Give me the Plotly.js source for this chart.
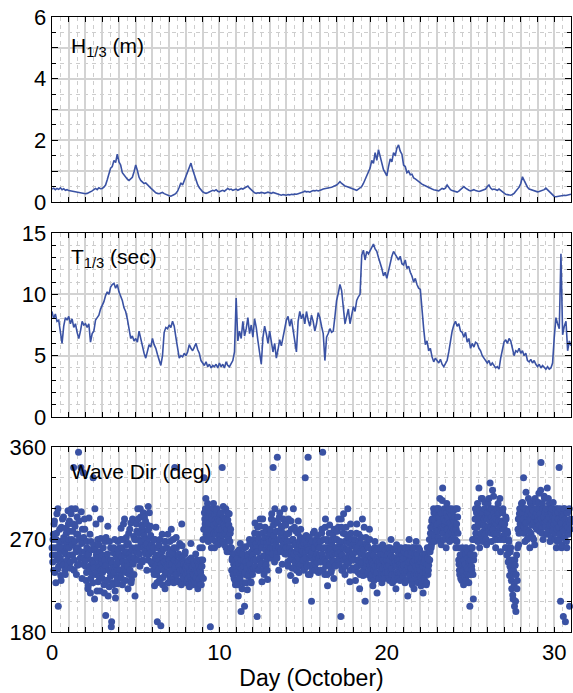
<!DOCTYPE html>
<html><head><meta charset="utf-8">
<script src="https://cdn.plot.ly/plotly-3.0.1.min.js"></script>
<style>html,body{margin:0;padding:0;background:#fff}#chart{width:573px;height:693px}</style>
</head><body><div id="chart"></div>
<script>
// Sampling interval (days) of the line series
const lineStepDays = 0.1;
// Significant wave height H1/3 (m), every 0.1 day from day 0 to 31
const waveHeight = [
0.42,0.45,0.40,0.44,0.41,0.46,0.40,0.43,0.38,0.40,
0.37,0.36,0.34,0.33,0.31,0.30,0.29,0.28,0.28,0.27,
0.27,0.28,0.30,0.33,0.36,0.40,0.44,0.40,0.46,0.43,
0.44,0.48,0.55,0.72,0.88,1.10,1.15,1.35,1.28,1.55,
1.30,1.20,0.95,0.88,0.78,0.74,0.70,0.76,0.80,0.98,
1.20,1.02,0.80,0.70,0.65,0.60,0.62,0.55,0.50,0.45,
0.40,0.34,0.30,0.28,0.27,0.29,0.31,0.27,0.24,0.22,
0.20,0.19,0.21,0.24,0.28,0.35,0.48,0.62,0.55,0.70,
0.82,0.95,1.12,1.26,1.05,0.86,0.70,0.56,0.46,0.38,
0.33,0.30,0.28,0.30,0.32,0.35,0.38,0.36,0.40,0.35,
0.33,0.36,0.38,0.35,0.40,0.44,0.40,0.42,0.38,0.40,
0.42,0.38,0.40,0.44,0.42,0.46,0.48,0.52,0.45,0.40,
0.34,0.30,0.28,0.30,0.29,0.31,0.30,0.28,0.30,0.32,
0.30,0.28,0.31,0.29,0.27,0.25,0.23,0.22,0.24,0.23,
0.22,0.24,0.23,0.25,0.24,0.26,0.25,0.27,0.28,0.30,
0.32,0.35,0.33,0.34,0.32,0.35,0.37,0.36,0.38,0.36,
0.39,0.40,0.42,0.43,0.45,0.44,0.47,0.48,0.50,0.52,
0.55,0.60,0.66,0.60,0.55,0.52,0.50,0.48,0.45,0.42,
0.40,0.39,0.38,0.42,0.45,0.50,0.60,0.72,0.85,1.00,
1.10,1.35,1.25,1.60,1.35,1.70,1.45,1.20,1.05,0.95,
0.85,1.15,1.40,1.30,1.60,1.50,1.75,1.85,1.65,1.55,
1.20,1.15,0.95,1.00,0.88,0.90,0.78,0.75,0.70,0.66,
0.62,0.58,0.55,0.52,0.50,0.47,0.44,0.42,0.40,0.38,
0.37,0.36,0.40,0.44,0.42,0.45,0.55,0.48,0.40,0.37,
0.35,0.33,0.32,0.35,0.40,0.45,0.50,0.45,0.40,0.38,
0.36,0.38,0.40,0.37,0.35,0.34,0.36,0.38,0.40,0.42,
0.50,0.55,0.45,0.40,0.42,0.40,0.38,0.42,0.38,0.32,
0.27,0.25,0.24,0.23,0.22,0.24,0.28,0.35,0.40,0.48,
0.60,0.82,0.70,0.58,0.48,0.42,0.40,0.38,0.36,0.35,
0.33,0.34,0.36,0.38,0.40,0.45,0.40,0.32,0.28,0.22,
0.18,0.17,0.18,0.20,0.19,0.21,0.22,0.21,0.22,0.24,
0.25];
// Significant wave period T1/3 (sec), every 0.1 day
const wavePeriod = [
8.6,8.0,8.4,7.8,7.9,7.0,6.0,7.4,8.1,7.9,
8.2,7.6,8.0,7.3,7.6,6.9,6.4,7.0,7.8,7.5,
7.6,7.3,7.6,6.1,6.8,7.0,7.9,8.1,8.3,8.8,
9.1,9.4,9.9,10.2,10.0,10.6,10.8,10.9,10.5,10.8,
10.2,9.8,9.5,8.9,8.6,8.0,7.2,6.4,6.6,6.2,
6.4,6.1,7.0,6.3,5.6,5.2,4.8,5.5,5.9,5.7,
6.4,5.9,5.6,5.1,4.6,4.2,5.0,6.9,7.3,7.2,
7.5,7.3,7.8,7.4,6.5,5.6,4.8,5.0,4.9,5.2,
5.0,5.3,5.9,5.6,5.4,5.7,6.0,5.5,5.2,4.6,
4.4,4.2,4.5,4.1,4.3,4.0,4.2,4.1,4.3,4.0,
4.4,4.1,4.3,4.0,4.5,4.2,4.1,4.3,4.6,5.3,
9.7,6.2,7.0,6.4,7.8,6.6,7.2,8.1,6.8,7.5,
6.5,8.0,7.3,6.2,5.0,4.3,6.5,7.4,6.8,6.0,
7.0,6.2,5.3,6.0,4.8,5.5,6.3,5.8,6.6,7.2,
7.9,8.2,7.4,8.0,7.1,6.3,5.3,7.8,8.6,8.0,
8.4,7.6,8.6,7.9,7.4,8.3,7.8,7.0,7.6,8.5,
8.1,7.4,6.8,4.6,6.5,6.8,7.2,6.9,7.0,8.2,
9.5,10.1,10.8,10.3,9.0,7.6,8.2,8.8,7.6,8.4,
9.0,8.6,9.5,9.8,10.0,13.2,13.6,12.8,13.5,13.3,
13.6,13.8,14.1,13.7,13.5,13.0,12.6,12.1,11.5,11.8,
11.3,12.0,12.6,13.1,13.5,13.3,13.0,12.8,13.1,12.5,
12.4,12.8,12.1,12.3,11.8,11.5,11.0,11.3,10.8,10.5,
10.4,8.6,7.2,5.9,6.2,5.4,5.6,4.9,4.5,4.8,
4.6,4.4,4.7,4.3,4.1,4.3,4.6,5.3,6.2,7.0,
7.5,7.8,7.4,7.6,7.0,6.9,6.5,6.9,6.1,6.4,
5.6,6.0,5.7,6.1,6.0,5.6,5.4,5.0,4.8,4.6,
4.4,4.6,4.2,4.4,4.2,4.0,4.1,3.9,4.8,5.4,
6.1,6.3,6.0,6.4,6.2,5.6,5.0,5.4,5.3,5.6,
5.2,5.4,5.0,5.2,4.6,4.5,4.7,4.4,4.6,4.3,
4.1,4.3,4.0,4.2,4.0,3.9,4.1,3.9,4.0,4.4,
6.5,8.1,7.6,7.2,13.3,6.7,7.4,7.8,5.4,6.2,
5.8];
// Wave direction (deg): half-hourly samples, given as the on-the-hour list and the half-past list
const dirStepDays = 1 / 24;
const waveDirOnHour = [
262,248,275,285,238,255,270,295,241,205,263,280,252,230,268,290,245,272,258,236,281,266,250,298,
270,288,255,242,300,265,278,340,250,283,262,236,292,275,355,246,271,258,297,232,268,335,252,280,
244,230,262,255,225,291,240,218,268,250,236,330,247,212,260,285,238,252,229,265,243,220,271,248,
232,255,241,218,268,196,245,230,283,250,224,239,262,185,247,228,257,236,270,213,244,252,227,260,
248,262,235,281,253,226,270,244,290,258,238,265,249,222,276,256,240,286,231,260,246,273,252,215,
270,285,258,300,262,276,244,292,268,281,250,296,274,259,288,265,240,279,302,256,271,283,248,265,
258,240,270,225,252,282,236,190,248,265,230,256,186,242,275,233,261,248,222,268,245,238,275,252,
250,268,238,280,246,258,232,262,340,244,272,236,255,229,248,266,240,228,285,252,234,246,239,258,
236,228,245,232,250,224,238,266,230,242,226,248,235,229,256,233,240,222,247,231,262,238,226,244,
250,232,330,290,300,275,288,305,268,282,296,185,279,292,270,301,284,262,289,275,298,280,265,287,
280,295,270,286,340,274,291,265,282,300,276,258,289,272,295,268,280,262,250,240,256,232,248,226,
245,230,258,215,247,236,266,200,242,255,228,250,205,238,263,244,221,253,236,270,246,229,258,240,
255,270,242,286,250,262,195,258,275,240,283,248,266,229,290,254,236,272,260,245,278,231,264,252,
268,280,252,295,262,340,274,248,288,265,256,350,278,240,292,270,258,283,246,276,265,300,256,284,
262,275,248,290,256,268,235,280,252,270,300,243,265,230,278,258,250,288,238,265,272,246,260,255,
258,240,270,330,252,266,244,350,260,272,236,255,210,268,246,262,278,240,253,267,248,274,238,262,
255,268,240,280,355,252,262,236,290,248,270,225,258,245,284,260,238,266,250,275,232,258,270,245,
262,278,250,290,245,268,195,282,255,240,295,262,236,275,252,268,300,247,260,229,285,256,270,242,
256,242,270,230,262,285,250,238,275,222,258,266,245,290,235,260,252,210,272,247,264,238,255,280,
245,232,260,248,225,255,240,268,236,250,218,245,262,232,248,256,240,228,265,250,236,245,260,238,
250,238,262,245,230,256,270,242,228,252,260,236,248,222,265,244,258,238,250,230,262,246,255,240,
245,258,228,262,240,252,215,248,270,235,255,242,230,262,248,222,256,240,268,236,250,228,245,260,
240,225,252,235,218,248,230,256,242,228,262,236,245,270,258,282,265,290,275,300,268,285,295,278,
285,300,272,292,310,278,265,295,320,282,270,298,288,262,305,280,292,275,268,296,284,300,276,290,
280,292,270,262,285,300,276,250,240,255,232,248,262,238,226,250,244,256,230,242,258,236,248,205,
250,262,240,270,212,255,282,300,290,270,305,285,320,262,298,276,290,310,268,284,300,275,292,265,
290,305,278,296,325,282,268,300,288,312,275,292,262,285,300,270,295,280,310,258,288,272,296,280,
270,285,262,290,255,276,248,268,235,258,240,222,250,212,236,205,245,200,255,230,280,265,295,285,
290,305,278,296,330,282,268,300,286,270,295,310,278,262,290,302,284,272,298,288,265,292,306,280,
300,288,315,278,295,345,282,305,270,292,310,286,298,275,320,290,280,305,268,295,285,300,278,292,
285,270,296,262,280,300,290,340,275,210,286,265,292,195,278,300,190,284,262,296,275,288,205,280];
const waveDirHalfHour = [
255,270,240,288,262,228,276,250,300,244,268,258,235,282,262,248,292,270,240,256,276,262,245,285,
262,278,248,295,270,255,285,240,268,300,258,275,245,262,288,270,252,340,266,280,246,272,290,258,
250,238,268,222,256,244,275,232,260,248,228,265,242,300,236,255,220,270,246,234,258,290,240,252,
238,262,226,250,244,272,230,256,215,240,268,234,250,190,242,226,262,238,220,255,246,232,268,240,
256,240,270,232,262,248,285,240,255,230,272,258,244,266,236,280,252,228,262,290,248,236,270,258,
262,278,250,290,270,256,300,266,284,248,276,262,292,270,256,285,266,250,280,296,262,274,258,246,
248,262,236,270,244,255,228,262,240,250,270,232,246,258,226,252,240,268,236,250,262,244,228,256,
246,232,260,240,255,270,228,250,242,236,262,248,230,256,244,238,252,226,264,240,248,232,256,244,
242,230,238,248,226,240,234,252,228,244,236,230,246,240,232,250,228,238,244,226,240,250,234,262,
270,280,296,285,310,278,292,270,300,286,275,298,262,290,280,305,276,294,268,286,300,278,290,272,
288,274,296,280,268,302,284,276,290,262,280,296,270,284,258,276,262,240,252,236,246,256,230,240,
238,252,226,246,260,232,250,240,222,256,244,262,236,248,228,242,256,234,250,266,240,228,252,236,
262,250,276,244,266,258,282,240,270,252,290,246,262,276,240,268,254,282,248,266,240,272,258,270,
276,262,290,270,256,284,268,300,262,278,252,286,270,262,296,276,260,282,268,290,258,272,286,262,
256,268,244,276,262,250,288,258,242,270,256,282,248,266,240,262,276,252,268,244,280,256,264,250,
250,266,242,258,274,246,262,236,270,252,244,266,258,240,276,250,262,246,270,256,240,264,252,268,
262,248,276,256,240,270,250,282,244,262,236,268,254,276,246,262,240,270,256,248,280,244,262,256,
270,256,282,248,266,258,290,240,262,276,250,268,244,282,260,248,272,256,266,240,276,252,264,250,
250,266,240,258,276,244,262,250,268,236,256,272,248,262,240,282,254,244,266,250,236,262,248,270,
240,252,236,256,246,230,262,244,252,238,260,248,232,254,244,262,236,250,242,256,232,248,240,254,
244,256,232,250,262,240,254,236,248,260,230,252,244,262,238,250,232,256,246,238,260,242,250,234,
252,238,262,246,230,256,244,262,236,250,240,258,226,248,262,236,250,244,232,256,240,262,236,248,
234,248,228,244,256,232,250,238,226,246,252,240,262,250,276,262,288,270,282,296,274,288,280,300,
292,278,300,286,268,296,282,308,276,290,300,284,272,296,280,290,270,300,286,278,294,282,270,298,
288,276,300,280,268,292,262,246,236,250,242,230,256,240,250,234,246,262,238,252,240,228,250,236,
256,244,262,236,250,270,290,276,296,282,268,300,284,292,272,310,286,296,278,290,306,282,270,296,
296,282,310,288,300,276,292,318,280,296,286,270,300,290,276,305,288,296,282,270,298,286,300,274,
280,270,292,262,278,256,270,250,244,262,230,246,216,240,226,250,210,236,222,262,290,276,300,290,
296,282,306,290,276,300,286,316,280,292,272,298,288,306,276,294,284,300,270,292,310,282,296,288,
292,306,284,300,318,290,276,300,286,312,296,282,300,288,276,310,292,284,300,272,296,288,306,282,
290,276,300,286,268,296,282,270,300,288,262,294,280,300,272,290,286,268,296,282,276,300,286,290];

const panelLabels = ['H<sub>1/3</sub> (m)', 'T<sub>1/3</sub> (sec)', 'Wave Dir (deg)'];
const xTitle = 'Day (October)';

const lineX = waveHeight.map((_, i) => i * lineStepDays);
const dirX = [], dirY = [];
waveDirOnHour.forEach((v, i) => {
  dirX.push(i * dirStepDays); dirY.push(v);
  dirX.push((i + 0.5) * dirStepDays); dirY.push(waveDirHalfHour[i]);
});

const BLUE = '#3a52a4';
const FONT = '"Liberation Sans", Arial, Helvetica, sans-serif';
const GRID = '#d3d3d3';
const GRID_DASH = '#cdcdcd';
const DASH = '4px,4px';

function xAxis(anchor, showLabels) {
  return {
    anchor: anchor, domain: [0, 1], range: [0, 31],
    tickmode: 'linear', tick0: 0, dtick: 1, ticklabelstep: 10,
    showticklabels: showLabels,
    ticks: 'inside', ticklen: 5, tickwidth: 1, tickcolor: '#000',
    showline: true, linecolor: '#000', linewidth: 1.3, mirror: 'ticks',
    showgrid: true, gridcolor: GRID, gridwidth: 2, zeroline: false,
    minor: { tick0: 0.5, dtick: 1, showgrid: true, gridcolor: GRID_DASH, griddash: DASH, gridwidth: 1, ticks: '' },
    tickfont: { family: FONT, size: 22, color: '#000' }
  };
}
function yAxis(anchor, domain, range, dtick, labelStep, minorVals) {
  return {
    anchor: anchor, domain: domain, range: range,
    tickmode: 'linear', tick0: range[0], dtick: dtick, ticklabelstep: labelStep,
    ticks: 'inside', ticklen: 6, tickwidth: 1, tickcolor: '#000',
    showline: true, linecolor: '#000', linewidth: 1.3, mirror: 'ticks',
    showgrid: true, gridcolor: GRID, gridwidth: 2, zeroline: false,
    minor: { tickmode: 'array', tickvals: minorVals, showgrid: true, gridcolor: GRID_DASH, griddash: DASH, gridwidth: 1, ticks: 'inside', ticklen: 4, tickcolor: '#000' },
    tickfont: { family: FONT, size: 22, color: '#000' }
  };
}

const hMinor = [0.5, 1.5, 2.5, 3.5, 4.5, 5.5];
const tMinor = [1, 2, 3, 4, 6, 7, 8, 9, 11, 12, 13, 14];
const dMinor = [210, 240, 300, 330];

const traces = [
  { x: lineX, y: waveHeight, xaxis: 'x', yaxis: 'y', type: 'scatter', mode: 'lines',
    line: { color: BLUE, width: 1.6 }, hoverinfo: 'skip', showlegend: false },
  { x: lineX, y: wavePeriod, xaxis: 'x2', yaxis: 'y2', type: 'scatter', mode: 'lines',
    line: { color: BLUE, width: 1.6 }, hoverinfo: 'skip', showlegend: false },
  { x: dirX, y: dirY, xaxis: 'x3', yaxis: 'y3', type: 'scatter', mode: 'markers',
    marker: { color: BLUE, size: 7 }, cliponaxis: false, hoverinfo: 'skip', showlegend: false }
];

const dTop = [0.6992, 1], dMid = [0.3496, 0.6488], dBot = [0, 0.3008];

const xa3 = xAxis('y3', true);
xa3.title = { text: xTitle, font: { family: FONT, size: 23, color: '#000' }, standoff: 6 };

const layout = {
  width: 573, height: 693,
  margin: { l: 52, r: 2, t: 17, b: 61 },
  paper_bgcolor: '#fff', plot_bgcolor: '#fff',
  font: { family: FONT, color: '#000' },
  showlegend: false,
  xaxis: xAxis('y', false),
  xaxis2: xAxis('y2', false),
  xaxis3: xa3,
  yaxis: yAxis('x', dTop, [0, 6], 1, 2, hMinor),
  yaxis2: yAxis('x2', dMid, [0, 15], 5, 1, tMinor),
  yaxis3: yAxis('x3', dBot, [180, 360], 90, 1, dMinor),
  annotations: panelLabels.map((t, i) => ({
    text: t, xref: (i === 0 ? 'x' : 'x' + (i + 1)) + ' domain', yref: (i === 0 ? 'y' : 'y' + (i + 1)) + ' domain',
    x: 0.033, y: [0.84, 0.865, 0.865][i], xanchor: 'left', yanchor: 'middle', showarrow: false,
    font: { family: FONT, size: 21, color: '#000' }
  }))
};

Plotly.newPlot('chart', traces, layout, { staticPlot: true, displayModeBar: false });
</script></body></html>
